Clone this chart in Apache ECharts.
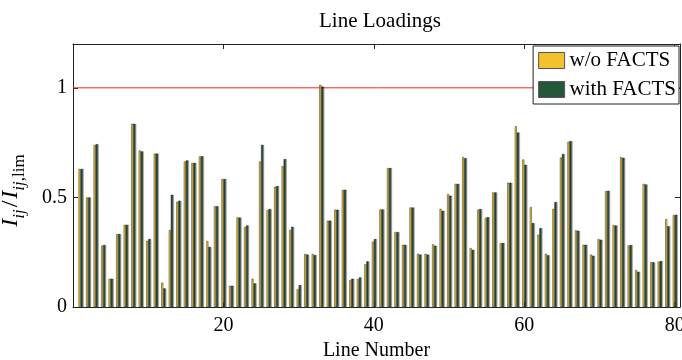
<!DOCTYPE html>
<html>
<head>
<meta charset="utf-8">
<script src="https://cdn.jsdelivr.net/npm/echarts@6/dist/echarts.min.js"></script>
<style>
  html, body { margin: 0; padding: 0; background: #fff; }
  #chart { width: 682px; height: 360px; }
</style>
</head>
<body>
<div id="chart"></div>
<script>
// line loading ratio per line
var woFacts = [0.63, 0.50, 0.739, 0.28, 0.129, 0.333, 0.375, 0.836, 0.714, 0.302,
               0.70, 0.111, 0.351, 0.48, 0.664, 0.657, 0.687, 0.301, 0.46, 0.584,
               0.097, 0.409, 0.365, 0.129, 0.664, 0.442, 0.549, 0.643, 0.351, 0.081,
               0.242, 0.242, 1.014, 0.394, 0.444, 0.535, 0.123, 0.128, 0.195, 0.298,
               0.445, 0.634, 0.342, 0.284, 0.454, 0.243, 0.243, 0.286, 0.448, 0.515,
               0.562, 0.684, 0.269, 0.444, 0.407, 0.523, 0.292, 0.567, 0.825, 0.673,
               0.456, 0.33, 0.243, 0.448, 0.682, 0.754, 0.35, 0.284, 0.239, 0.31,
               0.529, 0.374, 0.684, 0.281, 0.169, 0.562, 0.204, 0.207, 0.401, 0.419];
var withFacts = [0.63, 0.50, 0.743, 0.283, 0.129, 0.333, 0.375, 0.836, 0.71, 0.31,
                 0.70, 0.085, 0.512, 0.485, 0.669, 0.658, 0.688, 0.274, 0.46, 0.584,
                 0.097, 0.408, 0.372, 0.108, 0.74, 0.447, 0.552, 0.675, 0.366, 0.10,
                 0.239, 0.237, 1.006, 0.394, 0.444, 0.535, 0.129, 0.135, 0.208, 0.31,
                 0.445, 0.634, 0.342, 0.284, 0.454, 0.239, 0.239, 0.28, 0.439, 0.508,
                 0.562, 0.679, 0.261, 0.447, 0.41, 0.523, 0.292, 0.567, 0.796, 0.649,
                 0.383, 0.36, 0.236, 0.479, 0.698, 0.757, 0.348, 0.284, 0.234, 0.307,
                 0.53, 0.372, 0.681, 0.283, 0.161, 0.559, 0.204, 0.21, 0.369, 0.421];
var lineNumbers = woFacts.map(function (v, i) { return i + 1; });
var limit = 1;
var xMin = 0, xMax = 80.7;

var serif = 'Liberation Serif';
var frame = '#222';

function pairs(vals) {
  return vals.map(function (v, i) { return [lineNumbers[i], v]; });
}

var chart = echarts.init(document.getElementById('chart'));
var option = {
  animation: false,
  title: {
    text: 'Line Loadings',
    left: 314,
    top: 6,
    textStyle: { fontFamily: serif, fontSize: 21, fontWeight: 'normal', color: '#000' }
  },
  legend: {
    orient: 'vertical',
    right: 3,
    top: 46,
    padding: [4, 3, 4, 5],
    itemWidth: 26,
    itemHeight: 16,
    itemGap: 8,
    icon: 'rect',
    borderColor: frame,
    borderWidth: 1,
    borderRadius: 0,
    backgroundColor: '#fff',
    itemStyle: { borderColor: '#555', borderWidth: 1 },
    textStyle: { fontFamily: serif, fontSize: 21, lineHeight: 21, color: '#000' },
    data: ['w/o FACTS', 'with FACTS']
  },
  grid: { left: 73, right: 2, top: 44, bottom: 53, outerBoundsMode: 'none', containLabel: false },
  xAxis: [{
    type: 'value',
    min: xMin,
    max: xMax,
    interval: 20,
    name: 'Line Number',
    nameLocation: 'middle',
    nameGap: 31,
    nameTextStyle: { fontFamily: serif, fontSize: 20, color: '#000' },
    axisLine: { onZero: false, lineStyle: { color: frame } },
    axisTick: { inside: true, length: 5, lineStyle: { color: frame } },
    axisLabel: { showMinLabel: false, showMaxLabel: false, margin: 9,
      fontFamily: serif, fontSize: 20, color: '#000' },
    splitLine: { show: false }
  }, {
    type: 'value',
    position: 'top',
    min: xMin,
    max: xMax,
    interval: 20,
    axisLine: { show: true, onZero: false, lineStyle: { color: frame } },
    axisTick: { inside: true, length: 5, lineStyle: { color: frame } },
    axisLabel: { show: false },
    splitLine: { show: false }
  }],
  yAxis: [{
    type: 'value',
    min: 0,
    max: 1.2,
    interval: 0.5,
    name: '{a|I}{b|ij}{c|/}{a|I}{b|ij}{d|,lim}',
    nameLocation: 'middle',
    nameRotate: 90,
    nameGap: 45,
    nameTextStyle: {
      padding: [0, 30, 0, 0],
      rich: {
        a: { fontFamily: serif, fontStyle: 'italic', fontSize: 24, lineHeight: 29, verticalAlign: 'top', color: '#000' },
        b: { fontFamily: serif, fontStyle: 'italic', fontSize: 17, lineHeight: 17, verticalAlign: 'bottom', color: '#000' },
        c: { fontFamily: serif, fontSize: 24, lineHeight: 29, verticalAlign: 'top', color: '#000', padding: [0, 2, 0, 2] },
        d: { fontFamily: serif, fontSize: 17, lineHeight: 17, verticalAlign: 'bottom', color: '#000' }
      }
    },
    axisLine: { show: true, onZero: false, lineStyle: { color: frame } },
    axisTick: { show: true, inside: true, length: 5, lineStyle: { color: frame } },
    axisLabel: { showMaxLabel: false, margin: 6, fontFamily: serif, fontSize: 20, color: '#000' },
    splitLine: { show: false }
  }, {
    type: 'value',
    position: 'right',
    min: 0,
    max: 1.2,
    interval: 0.5,
    axisLine: { show: true, onZero: false, lineStyle: { color: frame } },
    axisTick: { show: true, inside: true, length: 5, lineStyle: { color: frame } },
    axisLabel: { show: false },
    splitLine: { show: false }
  }],
  series: [{
    name: 'limit',
    type: 'line',
    symbol: 'none',
    silent: true,
    z: 1,
    lineStyle: { color: '#FF2020', width: 1 },
    itemStyle: { color: '#FF2020' },
    data: [[xMin, limit], [xMax, limit]]
  }, {
    name: 'w/o FACTS',
    type: 'bar',
    barWidth: 2,
    barGap: '0%',
    itemStyle: { color: '#F2C12E', borderColor: '#3a3320', borderWidth: 0.5 },
    data: pairs(woFacts)
  }, {
    name: 'with FACTS',
    type: 'bar',
    barWidth: 2,
    barGap: '0%',
    itemStyle: { color: '#25583A', borderColor: '#1e261f', borderWidth: 0.5,
      shadowColor: 'rgba(0,0,0,0.35)', shadowOffsetX: 1.2, shadowBlur: 0 },
    data: pairs(withFacts)
  }]
};
chart.setOption(option);
</script>
</body>
</html>
